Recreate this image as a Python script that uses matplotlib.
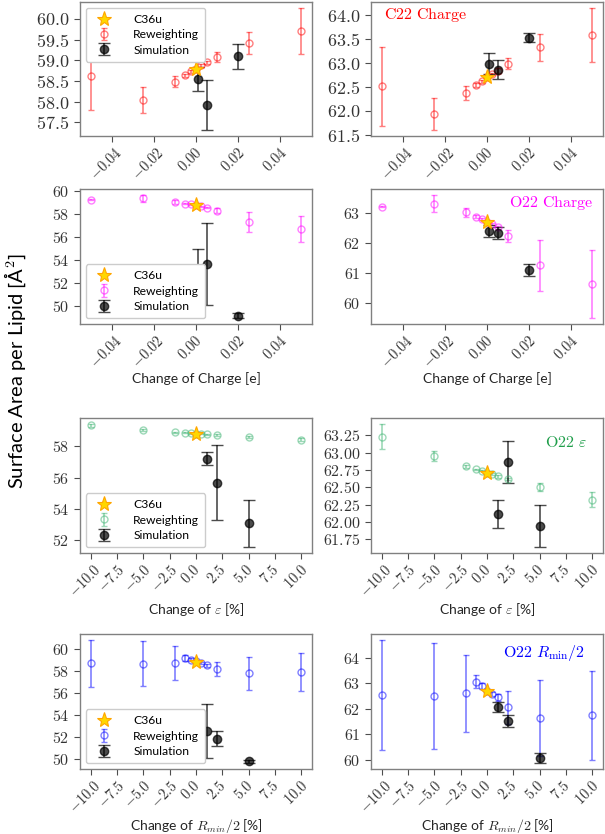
import matplotlib
matplotlib.use("Agg")
import matplotlib.pyplot as plt
import matplotlib.transforms as mtransforms
from matplotlib.ticker import ScalarFormatter, MultipleLocator

plt.rcParams['mathtext.fontset'] = 'cm'
plt.rcParams['font.family'] = ['Lato', 'DejaVu Sans']

# ---------------- data ----------------
charge_x_rw = [-0.05, -0.025, -0.01, -0.005, -0.0025, 0.0, 0.0025, 0.005, 0.01, 0.025, 0.05]
charge_x_sim = [0.001, 0.005, 0.02]
pct_x_rw = [-10, -5, -2, -1, -0.5, 0, 0.5, 1, 2, 5, 10]
pct_x_sim = [1, 2, 5]

c36u_left = 58.8
c36u_right = 62.7

c22_left_rw_y = [58.62, 58.04, 58.48, 58.64, 58.73, 58.8, 58.88, 58.95, 59.08, 59.42, 59.70]
c22_left_rw_err = [0.83, 0.32, 0.13, 0.04, 0.03, 0.02, 0.03, 0.04, 0.12, 0.27, 0.56]
c22_left_sim_y = [58.55, 57.92, 59.10]
c22_left_sim_err = [0.28, 0.60, 0.30]

c22_right_rw_y = [62.51, 61.93, 62.37, 62.54, 62.62, 62.70, 62.77, 62.84, 62.99, 63.33, 63.59]
c22_right_rw_err = [0.83, 0.33, 0.14, 0.05, 0.03, 0.02, 0.03, 0.05, 0.12, 0.28, 0.56]
c22_right_sim_y = [62.99, 62.86, 63.53]
c22_right_sim_err = [0.21, 0.20, 0.10]

o22q_left_rw_y = [59.27, 59.36, 59.06, 58.92, 58.86, 58.80, 58.68, 58.57, 58.30, 57.34, 56.73]
o22q_left_rw_err = [0.08, 0.29, 0.15, 0.06, 0.04, 0.03, 0.04, 0.06, 0.20, 0.85, 1.13]
o22q_left_sim_y = [52.43, 53.65, 49.18]
o22q_left_sim_err = [2.56, 3.58, 0.19]

o22q_right_rw_y = [63.22, 63.31, 63.02, 62.88, 62.80, 62.70, 62.63, 62.53, 62.22, 61.26, 60.63]
o22q_right_rw_err = [0.03, 0.29, 0.15, 0.05, 0.04, 0.03, 0.04, 0.05, 0.20, 0.85, 1.13]
o22q_right_sim_y = [62.39, 62.33, 61.09]
o22q_right_sim_err = [0.20, 0.21, 0.20]

o22e_left_rw_y = [59.33, 59.05, 58.90, 58.86, 58.84, 58.80, 58.79, 58.75, 58.71, 58.60, 58.43]
o22e_left_rw_err = [0.08, 0.06, 0.04, 0.03, 0.03, 0.02, 0.03, 0.03, 0.04, 0.06, 0.08]
o22e_left_sim_y = [57.21, 55.69, 53.09]
o22e_left_sim_err = [0.40, 2.40, 1.50]

o22e_right_rw_y = [63.23, 62.95, 62.80, 62.76, 62.74, 62.71, 62.69, 62.66, 62.62, 62.50, 62.32]
o22e_right_rw_err = [0.18, 0.07, 0.02, 0.01, 0.01, 0.01, 0.01, 0.02, 0.02, 0.06, 0.11]
o22e_right_sim_y = [62.11, 62.86, 61.94]
o22e_right_sim_err = [0.20, 0.30, 0.30]

o22r_left_rw_y = [58.64, 58.62, 58.70, 59.15, 59.00, 58.82, 58.70, 58.48, 58.15, 57.73, 57.85]
o22r_left_rw_err = [2.12, 2.07, 1.52, 0.30, 0.15, 0.05, 0.10, 0.15, 0.64, 1.50, 1.75]
o22r_left_sim_y = [52.48, 51.82, 49.76]
o22r_left_sim_err = [2.47, 0.70, 0.15]

o22r_right_rw_y = [62.54, 62.50, 62.60, 63.06, 62.89, 62.70, 62.57, 62.44, 62.05, 61.64, 61.74]
o22r_right_rw_err = [2.15, 2.08, 1.52, 0.26, 0.10, 0.05, 0.08, 0.14, 0.64, 1.50, 1.74]
o22r_right_sim_y = [62.05, 61.51, 60.07]
o22r_right_sim_err = [0.20, 0.23, 0.20]

legend_labels = ["C36u", "Reweighting", "Simulation"]
panel_titles = [r"$\mathrm{C22\ Charge}$", r"$\mathrm{O22\ Charge}$",
                r"$\mathrm{O22}\ \varepsilon$", r"$\mathrm{O22}\ R_{\mathrm{min}}/2$"]
xlabels = [None, "Change of Charge [e]", r"Change of $\varepsilon$ [%]",
           r"Change of $\mathit{R_{min}}/2$ [%]"]
ylabel = "Surface Area per Lipid [Å$^2$]"

# ---------------- style ----------------
W, H = 605, 834
fig = plt.figure(figsize=(W / 100, H / 100), dpi=100)


class BoldMath(ScalarFormatter):
    def __call__(self, x, pos=None):
        s = super().__call__(x, pos).replace('\u2212', '-')
        if s == '':
            return s
        return r'$\mathbf{%s}$' % s


rows_px = [(2, 136), (189, 324), (418, 553), (634, 769)]
cols_px = [(80, 312), (371, 603)]

colors = ['red', 'magenta', 'mediumseagreen', 'blue']
title_colors = ['red', 'magenta', '#1f9e4a', 'blue']
ysteps = [(0.5, 0.5), (2, 1), (2, 0.25), (2, 1)]
xsteps = [0.02, 0.02, 2.5, 2.5]
ytick_sizes = [13, 11.5, 11.5, 11.5]

panels = [
    [(charge_x_rw, c22_left_rw_y, c22_left_rw_err, charge_x_sim, c22_left_sim_y, c22_left_sim_err, c36u_left),
     (charge_x_rw, c22_right_rw_y, c22_right_rw_err, charge_x_sim, c22_right_sim_y, c22_right_sim_err, c36u_right)],
    [(charge_x_rw, o22q_left_rw_y, o22q_left_rw_err, charge_x_sim, o22q_left_sim_y, o22q_left_sim_err, c36u_left),
     (charge_x_rw, o22q_right_rw_y, o22q_right_rw_err, charge_x_sim, o22q_right_sim_y, o22q_right_sim_err, c36u_right)],
    [(pct_x_rw, o22e_left_rw_y, o22e_left_rw_err, pct_x_sim, o22e_left_sim_y, o22e_left_sim_err, c36u_left),
     (pct_x_rw, o22e_right_rw_y, o22e_right_rw_err, pct_x_sim, o22e_right_sim_y, o22e_right_sim_err, c36u_right)],
    [(pct_x_rw, o22r_left_rw_y, o22r_left_rw_err, pct_x_sim, o22r_left_sim_y, o22r_left_sim_err, c36u_left),
     (pct_x_rw, o22r_right_rw_y, o22r_right_rw_err, pct_x_sim, o22r_right_sim_y, o22r_right_sim_err, c36u_right)],
]

title_pos = [(0.056, 0.90, 'left'), (0.957, 0.895, 'right'), (0.93, 0.82, 'right'), (0.92, 0.86, 'right')]
xshift = mtransforms.ScaledTranslation(-4 / 72, 0, fig.dpi_scale_trans)

for r, (ytop, ybot) in enumerate(rows_px):
    for c, (xl, xr) in enumerate(cols_px):
        ax = fig.add_axes([xl / W, 1 - ybot / H, (xr - xl) / W, (ybot - ytop) / H])
        xrw, yrw, erw, xs, ys, es, star = panels[r][c]
        col = colors[r]
        h_rw = ax.errorbar(xrw, yrw, yerr=erw, fmt='o', mfc='none', mec=col, color=col,
                           ms=5, mew=1.0, elinewidth=1.2, capsize=2.5, capthick=1.0, alpha=0.5)
        h_sim = ax.errorbar(xs, ys, yerr=es, fmt='o', color='k', ms=6, elinewidth=1.2,
                            capsize=4, capthick=1.0, alpha=0.7)
        h_star, = ax.plot([0], [star], marker='*', ls='none', ms=11, mfc='gold',
                          mec='orange', mew=0.8, zorder=5)
        for sp in ax.spines.values():
            sp.set_color('0.5')
            sp.set_linewidth(1.0)
        ax.tick_params(axis='both', colors='0.3', length=4, width=0.8, labelcolor='0.2')
        ax.tick_params(axis='x', pad=2.5)
        ax.yaxis.set_major_locator(MultipleLocator(ysteps[r][c]))
        ax.xaxis.set_major_locator(MultipleLocator(xsteps[r]))
        ax.yaxis.set_major_formatter(BoldMath())
        ax.xaxis.set_major_formatter(BoldMath())
        for lab in ax.get_yticklabels():
            lab.set_fontsize(ytick_sizes[r])
        for lab in ax.get_xticklabels():
            lab.set_fontsize(10.5)
            lab.set_rotation(45)
            lab.set_ha('center')
            lab.set_transform(lab.get_transform() + xshift)
        if c == 0:
            loc = 'upper left' if r == 0 else 'lower left'
            ax.legend([h_star, h_rw, h_sim], legend_labels, loc=loc, fontsize=8.7,
                      borderpad=0.5, labelspacing=0.35, handletextpad=1.4,
                      edgecolor='0.8', framealpha=1.0)
        else:
            tx, ty, ha = title_pos[r]
            ax.text(tx, ty, panel_titles[r], transform=ax.transAxes, ha=ha, va='center',
                    fontsize=11.5, color=title_colors[r])
        if xlabels[r] is not None:
            ax.set_xlabel(xlabels[r], fontsize=10, color='0.15', labelpad=0.5)

fig.text(15 / W, 1 - 371 / H, ylabel, rotation=90, ha='center', va='center', fontsize=14.5)

fig.savefig("out.png", dpi=100)
